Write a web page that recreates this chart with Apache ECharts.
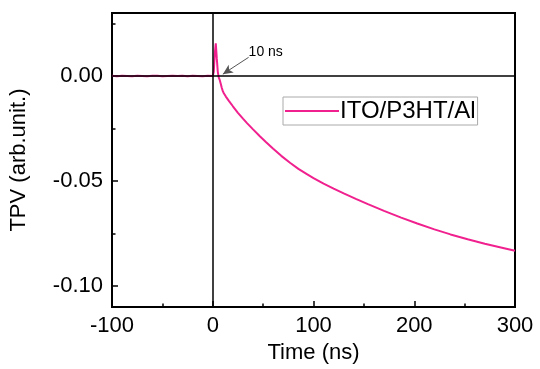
<!DOCTYPE html>
<html>
<head>
<meta charset="utf-8">
<script src="https://cdn.jsdelivr.net/npm/echarts@6/dist/echarts.min.js"></script>
<style>
  html, body { margin: 0; padding: 0; background: #fff; }
  #chart { width: 540px; height: 369px; }
</style>
</head>
<body>
<div id="chart"></div>
<script>
// time axis (ns) and TPV signal (arb. unit)
const timeNs = [
  -100, -95, -90, -85, -80, -75, -70, -65, -60, -55, -50, -45, -40, -35, -30, -25, -20, -15, -10, -5, 0,
  1, 2, 3, 4, 5, 6, 7, 8, 9, 10, 11, 13, 16, 20, 25, 30, 34, 40, 47, 53, 60, 68, 77, 85, 93,
  100, 110, 120, 130, 142, 154, 170, 187, 203, 220, 236, 253, 270, 286, 300
];
const tpv = [
  0.0001, -0.0001, 0.0001, 0, -0.0001, 0.0001, 0, -0.0001, 0.0001, 0.0001, -0.0001,
  0, 0.0001, 0, 0.0001, -0.0001, 0.0001, 0, -0.0001, 0.0001, 0,
  0.002, 0.0105, 0.0156, 0.0085, 0.002, -0.0008, -0.0020, -0.0038, -0.0057, -0.0072, -0.0082,
  -0.0098, -0.0118, -0.0144, -0.0175, -0.0203, -0.0224, -0.0254, -0.0288, -0.0315, -0.0346,
  -0.0380, -0.0414, -0.0442, -0.0466, -0.0486, -0.0512, -0.0536, -0.0559, -0.0585, -0.0610,
  -0.0642, -0.0674, -0.0702, -0.0730, -0.0754, -0.0777, -0.0798, -0.0816, -0.0832
];
const yMajorTicks = [-0.10, -0.05, 0.00];
const yMinorTicks = [-0.075, -0.025, 0.025];
const seriesName = 'ITO/P3HT/Al';
const noteText = '10 ns';

const font = '"Liberation Sans", Arial, sans-serif';
const lineColor = '#f0218e';

const chart = echarts.init(document.getElementById('chart'), null, { renderer: 'canvas' });

const option = {
  backgroundColor: '#fff',
  animation: false,
  textStyle: { fontFamily: font, color: '#000' },
  grid: {
    left: 110, right: 25, top: 13, bottom: 59,
    show: true,
    borderColor: '#000',
    borderWidth: 2,
    backgroundColor: 'transparent'
  },
  legend: {
    left: 283,
    top: 97,
    padding: [2, 2, 2, 2],
    itemWidth: 54,
    itemHeight: 2,
    itemGap: 0,
    backgroundColor: '#fff',
    borderColor: '#aaa',
    borderWidth: 1,
    borderRadius: 0,
    textStyle: { fontFamily: font, fontSize: 24, color: '#000', padding: [0, 0, 0, -4] },
    data: [{ name: seriesName, icon: 'rect', itemStyle: { color: lineColor } }]
  },
  xAxis: {
    type: 'value',
    min: -100,
    max: 300,
    interval: 100,
    name: 'Time (ns)',
    nameLocation: 'middle',
    nameGap: 34,
    nameTextStyle: { fontFamily: font, fontSize: 22, color: '#000' },
    axisLine: { show: true, onZero: false, lineStyle: { color: '#000', width: 2 } },
    axisTick: { show: true, inside: true, length: 6, lineStyle: { color: '#000', width: 1.5 } },
    minorTick: { show: true, splitNumber: 2, length: 3.5, lineStyle: { color: '#000', width: 1.5 } },
    axisLabel: { fontFamily: font, fontSize: 22, color: '#000', margin: 8, showMinLabel: true, showMaxLabel: true },
    splitLine: { show: false }
  },
  yAxis: [
    {
      type: 'value',
      min: -0.11,
      max: 0.03,
      name: 'TPV (arb.unit.)',
      nameLocation: 'middle',
      nameGap: 82,
      nameTextStyle: { fontFamily: font, fontSize: 22, color: '#000' },
      axisLine: { show: true, onZero: false, lineStyle: { color: '#000', width: 2 } },
      axisTick: { show: true, inside: true, length: 6, customValues: yMajorTicks, lineStyle: { color: '#000', width: 1.5 } },
      axisLabel: {
        fontFamily: font, fontSize: 22, color: '#000', margin: 9,
        customValues: yMajorTicks,
        formatter: v => v.toFixed(2)
      },
      splitLine: { show: false }
    },
    {
      type: 'value',
      min: -0.11,
      max: 0.03,
      position: 'left',
      axisLine: { show: false, onZero: false },
      axisTick: { show: true, inside: true, length: 3.5, customValues: yMinorTicks, lineStyle: { color: '#000', width: 1.5 } },
      axisLabel: { show: false },
      splitLine: { show: false }
    }
  ],
  series: [
    {
      // reference lines through the origin
      type: 'line',
      data: [],
      z: 1,
      silent: true,
      markLine: {
        silent: true,
        symbol: ['none', 'none'],
        label: { show: false },
        lineStyle: { color: '#000', width: 1.5, type: 'solid' },
        data: [{ xAxis: 0 }, { yAxis: 0 }]
      }
    },
    {
      name: seriesName,
      type: 'line',
      z: 3,
      data: timeNs.map((t, i) => [t, tpv[i]]),
      symbol: 'none',
      showSymbol: false,
      lineStyle: { color: lineColor, width: 2 },
      itemStyle: { color: lineColor },
      markLine: {
        silent: true,
        symbol: ['none', 'arrow'],
        symbolSize: [7, 10],
        label: { show: false },
        lineStyle: { color: '#555', width: 1, type: 'solid' },
        data: [[{ coord: [35.6, 0.0089] }, { coord: [10, 0.0009] }]]
      },
      markPoint: {
        silent: true,
        symbol: 'circle',
        symbolSize: 0,
        label: {
          show: true,
          position: 'right',
          distance: 0,
          fontFamily: font,
          fontSize: 14,
          color: '#000',
          formatter: noteText
        },
        data: [{ coord: [35.6, 0.0113] }]
      }
    }
  ]
};

chart.setOption(option);
</script>
</body>
</html>
